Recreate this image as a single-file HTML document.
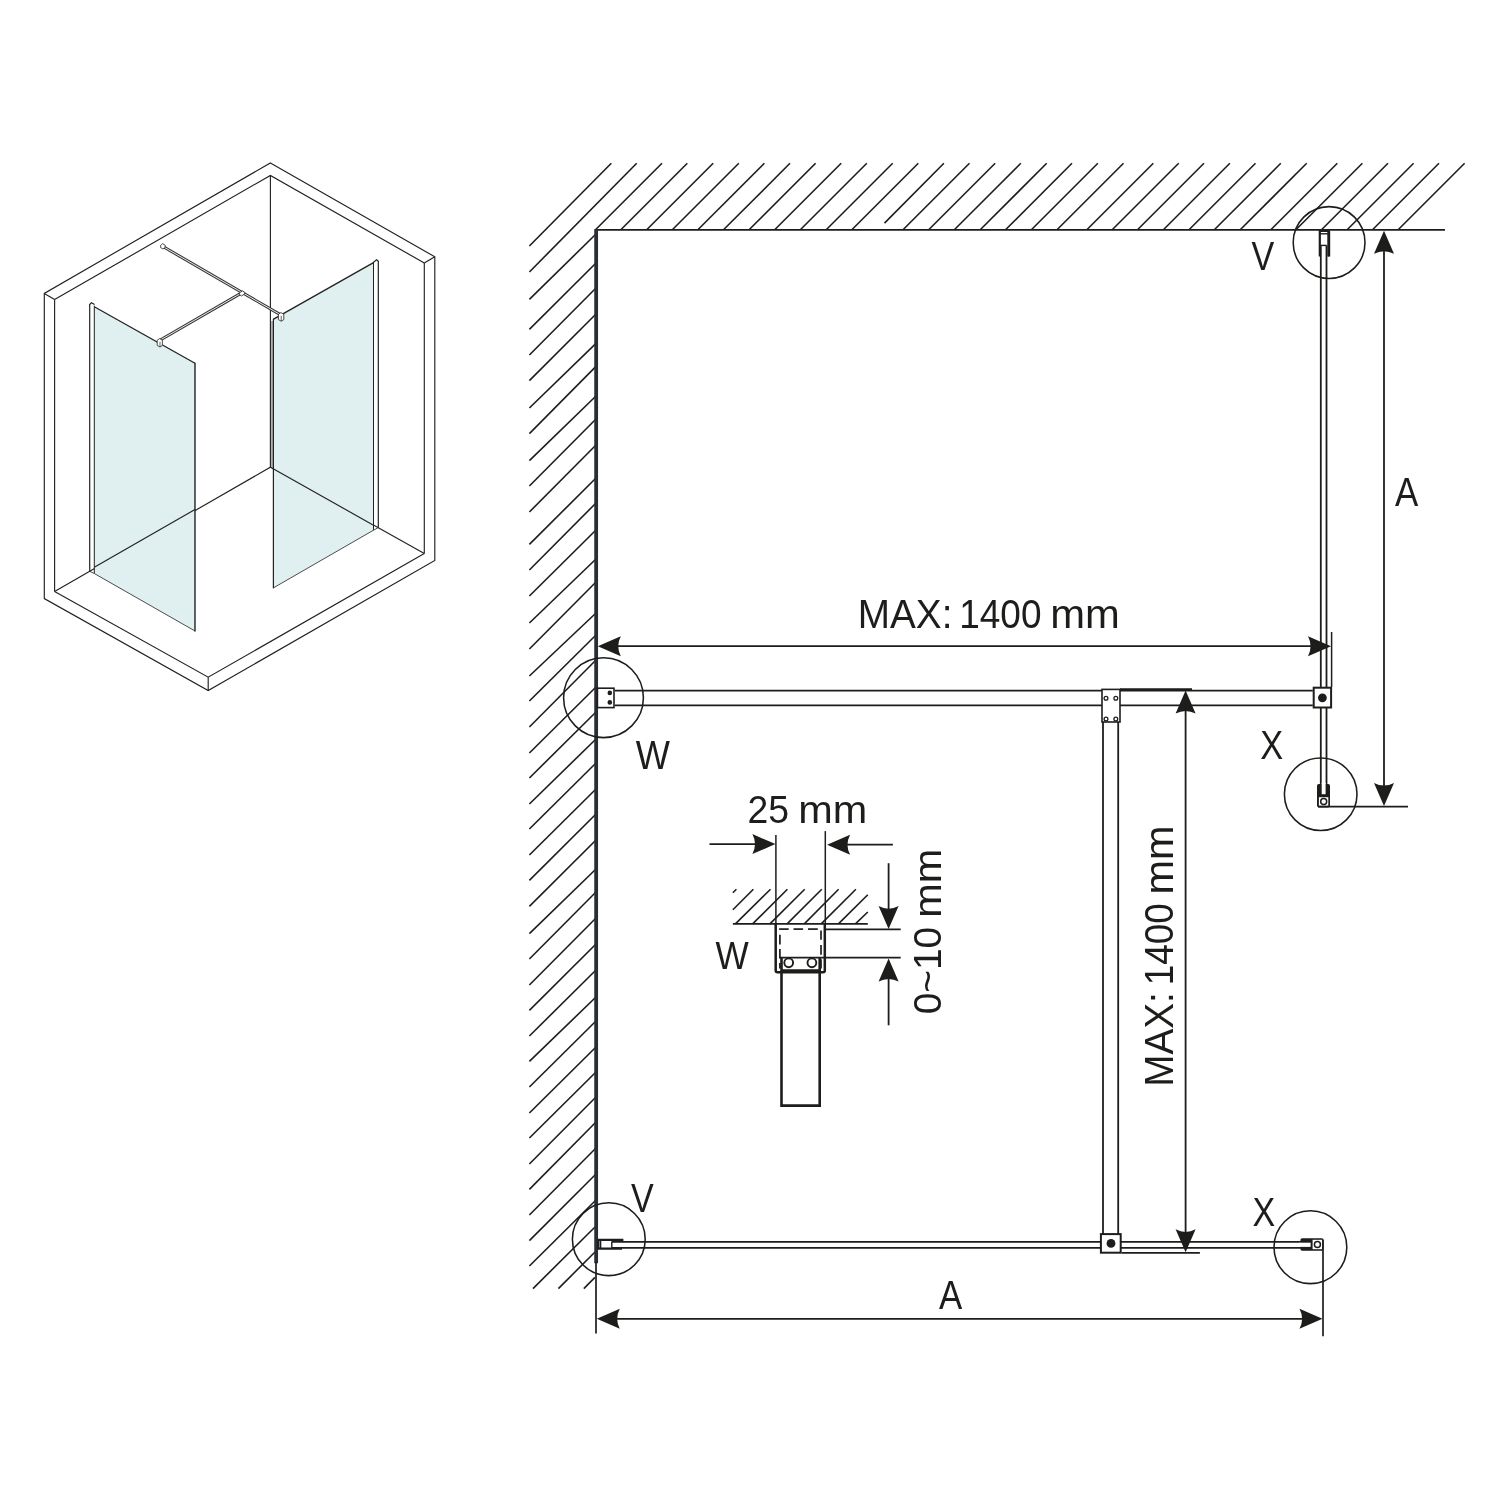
<!DOCTYPE html>
<html lang="en">
<head>
<meta charset="utf-8">
<title>Walk-in shower installation dimensions</title>
<style>
html,body{margin:0;padding:0;background:#fff;}
body{width:1500px;height:1500px;overflow:hidden;}
svg{display:block;will-change:transform;}
text{font-family:"Liberation Sans",sans-serif;}
</style>
</head>
<body>
<svg width="1500" height="1500" viewBox="0 0 1500 1500">
<rect x="0" y="0" width="1500" height="1500" fill="#ffffff"/>
<g stroke-linecap="butt">
<path d="M270.40,162.90 L434.80,256.80 L434.80,560.40 L208.20,690.60 L44.30,598.60 L44.30,293.40 Z" fill="none" stroke="#222221" stroke-width="1.15" stroke-linejoin="miter" />
<path d="M54.60,299.60 L270.40,175.40 L424.30,263.00" fill="none" stroke="#222221" stroke-width="1.15" stroke-linejoin="miter" />
<line x1="44.30" y1="293.40" x2="54.60" y2="299.60" stroke="#222221" stroke-width="1.15" />
<line x1="434.80" y1="256.80" x2="424.30" y2="263.00" stroke="#222221" stroke-width="1.15" />
<line x1="54.60" y1="299.60" x2="54.60" y2="591.40" stroke="#222221" stroke-width="1.15" />
<line x1="424.30" y1="263.00" x2="424.30" y2="553.60" stroke="#222221" stroke-width="1.15" />
<line x1="270.40" y1="175.40" x2="270.40" y2="467.20" stroke="#222221" stroke-width="1.15" />
<path d="M54.60,591.40 L270.40,467.20 L424.30,553.60" fill="none" stroke="#222221" stroke-width="1.15" stroke-linejoin="miter" />
<path d="M54.60,591.40 L208.20,677.20 L424.30,553.60" fill="none" stroke="#222221" stroke-width="1.15" stroke-linejoin="miter" />
<line x1="208.20" y1="677.20" x2="208.20" y2="690.60" stroke="#222221" stroke-width="1.15" />
<line x1="162.60" y1="246.30" x2="279.90" y2="314.40" stroke="#3a3a39" stroke-width="3.0" />
<line x1="162.60" y1="246.30" x2="279.90" y2="314.40" stroke="#ffffff" stroke-width="0.9" />
<line x1="240.40" y1="293.60" x2="160.30" y2="340.00" stroke="#3a3a39" stroke-width="3.0" />
<line x1="240.40" y1="293.60" x2="160.30" y2="340.00" stroke="#ffffff" stroke-width="0.9" />
<path d="M160.60,245.40 L162.60,243.60 L165.20,245.20 L165.00,247.60 L163.00,249.00 L160.60,247.60 Z" fill="#fff" stroke="#222221" stroke-width="0.8" stroke-linejoin="miter" />
<path d="M239.40,292.80 L242.40,290.90 L244.80,292.40 L244.60,294.00 L241.60,295.90 L239.40,294.50 Z" fill="#fff" stroke="#222221" stroke-width="0.8" stroke-linejoin="miter" />
<path d="M94.30,306.70 L195.00,363.30 L195.00,631.00 L94.30,573.50 Z" fill="#e0eff0" stroke="none" stroke-width="0" stroke-linejoin="miter" />
<line x1="94.30" y1="567.20" x2="195.00" y2="509.60" stroke="#222221" stroke-width="1.15" />
<line x1="94.30" y1="573.50" x2="195.00" y2="631.00" stroke="#222221" stroke-width="0.8" />
<line x1="94.30" y1="306.70" x2="195.00" y2="363.30" stroke="#222221" stroke-width="1.3" />
<line x1="195.00" y1="362.80" x2="195.00" y2="631.40" stroke="#222221" stroke-width="1.4" />
<line x1="94.30" y1="305.60" x2="94.30" y2="573.50" stroke="#222221" stroke-width="1.0" />
<line x1="89.70" y1="304.00" x2="89.70" y2="571.30" stroke="#222221" stroke-width="1.2" />
<path d="M89.70,304.40 L91.40,302.80 L94.60,304.60" fill="none" stroke="#222221" stroke-width="1.2" stroke-linejoin="miter" />
<line x1="89.70" y1="571.30" x2="94.30" y2="573.50" stroke="#222221" stroke-width="0.8" />
<path d="M273.20,319.40 L373.50,262.60 L373.50,530.20 L273.20,588.00 Z" fill="#e0eff0" stroke="none" stroke-width="0" stroke-linejoin="miter" />
<line x1="273.20" y1="468.80" x2="373.50" y2="525.20" stroke="#222221" stroke-width="1.15" />
<line x1="273.20" y1="588.00" x2="373.50" y2="530.20" stroke="#222221" stroke-width="0.8" />
<line x1="273.20" y1="319.40" x2="373.50" y2="262.60" stroke="#222221" stroke-width="1.3" />
<line x1="273.40" y1="318.80" x2="273.40" y2="588.20" stroke="#222221" stroke-width="1.2" />
<line x1="272.00" y1="321.00" x2="272.00" y2="467.80" stroke="#222221" stroke-width="0.7" />
<line x1="373.50" y1="262.00" x2="373.50" y2="530.20" stroke="#222221" stroke-width="1.0" />
<line x1="378.30" y1="261.00" x2="378.30" y2="527.60" stroke="#222221" stroke-width="1.2" />
<path d="M373.20,262.40 L376.60,259.80 L378.40,261.20" fill="none" stroke="#222221" stroke-width="1.2" stroke-linejoin="miter" />
<line x1="373.50" y1="530.20" x2="378.30" y2="527.60" stroke="#222221" stroke-width="0.8" />
<path d="M157.20,340.20 L159.60,338.60 L162.40,340.20 L162.40,345.40 L160.00,347.00 L157.20,345.40 Z" fill="#fff" stroke="#222221" stroke-width="0.8" stroke-linejoin="miter" />
<line x1="160.00" y1="341.80" x2="160.00" y2="347.00" stroke="#222221" stroke-width="0.7" />
<path d="M278.40,314.20 L281.00,312.60 L283.80,314.20 L283.80,319.60 L281.20,321.20 L278.40,319.60 Z" fill="#fff" stroke="#222221" stroke-width="0.8" stroke-linejoin="miter" />
<line x1="281.20" y1="315.80" x2="281.20" y2="321.20" stroke="#222221" stroke-width="0.7" />
</g>
<g stroke="#1d1d1b" stroke-width="1.6">
<line x1="611.3" y1="163.3" x2="529.4" y2="246.0"/>
<line x1="636.7" y1="163.3" x2="529.4" y2="272.0"/>
<line x1="662.0" y1="163.3" x2="595.5" y2="229.8"/>
<line x1="687.3" y1="163.3" x2="620.8" y2="229.8"/>
<line x1="713.2" y1="163.3" x2="646.7" y2="229.8"/>
<line x1="738.8" y1="163.3" x2="672.3" y2="229.8"/>
<line x1="764.4" y1="163.3" x2="697.9" y2="229.8"/>
<line x1="790.0" y1="163.3" x2="723.5" y2="229.8"/>
<line x1="815.6" y1="163.3" x2="749.1" y2="229.8"/>
<line x1="841.2" y1="163.3" x2="774.7" y2="229.8"/>
<line x1="866.8" y1="163.3" x2="800.3" y2="229.8"/>
<line x1="892.7" y1="163.3" x2="826.2" y2="229.8"/>
<line x1="918.3" y1="163.3" x2="851.8" y2="229.8"/>
<line x1="943.9" y1="163.3" x2="884.5" y2="223.1"/>
<line x1="969.5" y1="163.3" x2="903.0" y2="229.8"/>
<line x1="995.2" y1="163.3" x2="928.7" y2="229.8"/>
<line x1="1020.8" y1="163.3" x2="954.3" y2="229.8"/>
<line x1="1046.7" y1="163.3" x2="980.2" y2="229.8"/>
<line x1="1072.0" y1="163.3" x2="1005.5" y2="229.8"/>
<line x1="1097.9" y1="163.3" x2="1031.4" y2="229.8"/>
<line x1="1123.5" y1="163.3" x2="1057.0" y2="229.8"/>
<line x1="1153.3" y1="163.3" x2="1086.8" y2="229.8"/>
<line x1="1178.7" y1="163.3" x2="1112.2" y2="229.8"/>
<line x1="1204.0" y1="163.3" x2="1137.5" y2="229.8"/>
<line x1="1229.9" y1="163.3" x2="1163.4" y2="229.8"/>
<line x1="1255.5" y1="163.3" x2="1189.0" y2="229.8"/>
<line x1="1280.8" y1="163.3" x2="1214.3" y2="229.8"/>
<line x1="1306.7" y1="163.3" x2="1240.2" y2="229.8"/>
<line x1="1337.3" y1="163.3" x2="1270.8" y2="229.8"/>
<line x1="1362.4" y1="163.3" x2="1295.9" y2="229.8"/>
<line x1="1388.0" y1="163.3" x2="1321.5" y2="229.8"/>
<line x1="1413.6" y1="163.3" x2="1347.1" y2="229.8"/>
<line x1="1439.0" y1="163.3" x2="1372.5" y2="229.8"/>
<line x1="1464.6" y1="163.3" x2="1398.1" y2="229.8"/>
<line x1="529.4" y1="299.4" x2="596.0" y2="234.0"/>
<line x1="529.4" y1="329.4" x2="596.0" y2="263.0"/>
<line x1="529.4" y1="355.0" x2="596.0" y2="288.0"/>
<line x1="529.4" y1="380.6" x2="596.0" y2="314.0"/>
<line x1="529.4" y1="408.0" x2="596.0" y2="343.4"/>
<line x1="529.4" y1="433.6" x2="596.0" y2="366.4"/>
<line x1="529.4" y1="460.6" x2="596.0" y2="396.0"/>
<line x1="529.4" y1="486.0" x2="596.0" y2="419.0"/>
<line x1="529.4" y1="512.0" x2="596.0" y2="445.0"/>
<line x1="529.4" y1="544.4" x2="596.0" y2="478.0"/>
<line x1="529.4" y1="570.0" x2="596.0" y2="503.0"/>
<line x1="529.4" y1="596.0" x2="596.0" y2="530.0"/>
<line x1="529.4" y1="623.0" x2="596.0" y2="559.0"/>
<line x1="529.4" y1="649.0" x2="596.0" y2="582.0"/>
<line x1="529.4" y1="676.0" x2="596.0" y2="613.0"/>
<line x1="529.4" y1="701.0" x2="596.0" y2="635.0"/>
<line x1="529.4" y1="727.0" x2="596.0" y2="660.0"/>
<line x1="529.4" y1="753.0" x2="596.0" y2="687.0"/>
<line x1="529.4" y1="778.0" x2="596.0" y2="712.0"/>
<line x1="529.4" y1="804.0" x2="596.0" y2="739.0"/>
<line x1="529.4" y1="829.0" x2="596.0" y2="763.0"/>
<line x1="529.4" y1="855.0" x2="596.0" y2="789.0"/>
<line x1="529.4" y1="880.4" x2="596.0" y2="814.0"/>
<line x1="529.4" y1="906.4" x2="596.0" y2="840.0"/>
<line x1="529.4" y1="933.6" x2="596.0" y2="869.0"/>
<line x1="529.4" y1="959.0" x2="596.0" y2="892.0"/>
<line x1="529.4" y1="985.0" x2="596.0" y2="918.0"/>
<line x1="529.4" y1="1010.4" x2="596.0" y2="944.0"/>
<line x1="529.4" y1="1036.0" x2="596.0" y2="970.0"/>
<line x1="529.4" y1="1061.4" x2="596.0" y2="997.0"/>
<line x1="529.4" y1="1087.0" x2="596.0" y2="1021.0"/>
<line x1="529.4" y1="1113.0" x2="596.0" y2="1047.0"/>
<line x1="529.4" y1="1138.0" x2="596.0" y2="1072.0"/>
<line x1="529.4" y1="1164.0" x2="596.0" y2="1097.0"/>
<line x1="529.4" y1="1189.4" x2="596.0" y2="1122.0"/>
<line x1="529.4" y1="1215.0" x2="596.0" y2="1148.0"/>
<line x1="529.4" y1="1240.6" x2="596.0" y2="1174.0"/>
<line x1="529.4" y1="1266.0" x2="596.0" y2="1200.0"/>
<line x1="533.0" y1="1288.6" x2="595.0" y2="1227.0"/>
<line x1="558.4" y1="1288.6" x2="595.0" y2="1252.0"/>
<line x1="583.8" y1="1288.6" x2="595.0" y2="1277.4"/>
</g>
<line x1="596.00" y1="229.80" x2="1445.00" y2="229.80" stroke="#1d1d1b" stroke-width="1.7" />
<line x1="596.15" y1="228.95" x2="596.15" y2="1263.20" stroke="#2a2d36" stroke-width="3.8" />
<line x1="596.00" y1="1262.00" x2="596.00" y2="1333.60" stroke="#1d1d1b" stroke-width="1.7" />
<circle cx="603.50" cy="697.70" r="39.90" fill="none" stroke="#1d1d1b" stroke-width="1.55"/>
<circle cx="1329.10" cy="242.50" r="35.90" fill="none" stroke="#1d1d1b" stroke-width="1.55"/>
<circle cx="1320.70" cy="794.20" r="36.30" fill="none" stroke="#1d1d1b" stroke-width="1.55"/>
<circle cx="608.80" cy="1239.20" r="36.40" fill="none" stroke="#1d1d1b" stroke-width="1.55"/>
<circle cx="1310.40" cy="1247.20" r="36.40" fill="none" stroke="#1d1d1b" stroke-width="1.55"/>
<line x1="614.80" y1="690.60" x2="1312.80" y2="690.60" stroke="#1d1d1b" stroke-width="1.8" />
<line x1="614.80" y1="705.30" x2="1312.80" y2="705.30" stroke="#1d1d1b" stroke-width="1.8" />
<line x1="1103.00" y1="722.00" x2="1103.00" y2="1234.00" stroke="#1d1d1b" stroke-width="1.8" />
<line x1="1118.20" y1="722.00" x2="1118.20" y2="1234.00" stroke="#1d1d1b" stroke-width="1.8" />
<line x1="1320.80" y1="245.20" x2="1320.80" y2="795.00" stroke="#1d1d1b" stroke-width="1.8" />
<line x1="1326.50" y1="245.20" x2="1326.50" y2="795.00" stroke="#1d1d1b" stroke-width="1.8" />
<line x1="1320.80" y1="245.40" x2="1326.50" y2="245.40" stroke="#1d1d1b" stroke-width="1.4" />
<line x1="611.60" y1="1241.80" x2="1310.40" y2="1241.80" stroke="#1d1d1b" stroke-width="1.8" />
<line x1="611.60" y1="1247.80" x2="1310.40" y2="1247.80" stroke="#1d1d1b" stroke-width="1.8" />
<line x1="611.80" y1="1241.80" x2="611.80" y2="1247.80" stroke="#1d1d1b" stroke-width="1.4" />
<rect x="597.40" y="688.20" width="16.60" height="19.40" rx="0" fill="#fff" stroke="#1d1d1b" stroke-width="1.6"/>
<circle cx="609.80" cy="692.90" r="2.30" fill="#1d1d1b"/>
<circle cx="609.80" cy="702.40" r="2.30" fill="#1d1d1b"/>
<rect x="1102.00" y="689.40" width="18.00" height="32.60" rx="0" fill="#fff" stroke="#1d1d1b" stroke-width="1.6"/>
<circle cx="1106.00" cy="698.20" r="1.90" fill="none" stroke="#1d1d1b" stroke-width="1.3"/>
<circle cx="1106.00" cy="719.00" r="1.90" fill="none" stroke="#1d1d1b" stroke-width="1.3"/>
<circle cx="1115.80" cy="698.20" r="1.90" fill="none" stroke="#1d1d1b" stroke-width="1.3"/>
<circle cx="1115.80" cy="719.00" r="1.90" fill="none" stroke="#1d1d1b" stroke-width="1.3"/>
<line x1="1120.00" y1="689.40" x2="1192.00" y2="689.40" stroke="#1d1d1b" stroke-width="2.4" />
<rect x="1313.70" y="687.70" width="17.40" height="19.80" rx="0" fill="#fff" stroke="#1d1d1b" stroke-width="2.0"/>
<circle cx="1322.40" cy="697.80" r="4.40" fill="#1d1d1b"/>
<rect x="1100.90" y="1234.10" width="19.80" height="18.60" rx="0" fill="#fff" stroke="#1d1d1b" stroke-width="2.0"/>
<circle cx="1111.00" cy="1243.40" r="4.40" fill="#1d1d1b"/>
<line x1="1121.70" y1="1252.90" x2="1199.90" y2="1252.90" stroke="#1d1d1b" stroke-width="1.7" />
<path d="M1319.80,256.40 L1319.80,231.00 L1328.60,231.00 L1328.60,256.40" fill="none" stroke="#1d1d1b" stroke-width="2.2" stroke-linejoin="miter" />
<line x1="1328.90" y1="231.00" x2="1328.90" y2="256.40" stroke="#1d1d1b" stroke-width="2.6" />
<line x1="1319.80" y1="233.80" x2="1328.60" y2="233.80" stroke="#1d1d1b" stroke-width="1.4" />
<path d="M623.40,1239.80 L598.40,1239.80 L598.40,1248.60 L622.00,1248.60" fill="none" stroke="#1d1d1b" stroke-width="2.2" stroke-linejoin="miter" />
<line x1="600.60" y1="1240.60" x2="600.60" y2="1248.00" stroke="#1d1d1b" stroke-width="1.4" />
<rect x="1317.00" y="784.00" width="13.00" height="23.40" rx="1.8" fill="#1d1d1b" stroke="#1d1d1b" stroke-width="0"/>
<rect x="1321.7" y="783" width="3.9" height="11.2" fill="#fff"/>
<rect x="1318.9" y="797.2" width="9.4" height="8.6" fill="#fff"/>
<circle cx="1323.70" cy="801.40" r="3.00" fill="#fff" stroke="#1d1d1b" stroke-width="1.5"/>
<rect x="1300.40" y="1238.20" width="23.20" height="12.60" rx="1.8" fill="#1d1d1b" stroke="#1d1d1b" stroke-width="0"/>
<rect x="1299.4" y="1242.7" width="11.2" height="4.2" fill="#fff"/>
<rect x="1312.6" y="1239.8" width="9.6" height="9.4" fill="#fff"/>
<circle cx="1317.40" cy="1244.60" r="3.00" fill="#fff" stroke="#1d1d1b" stroke-width="1.5"/>
<line x1="610.00" y1="646.20" x2="1318.00" y2="646.20" stroke="#1d1d1b" stroke-width="1.8" />
<path transform="translate(597.80,646.20) rotate(180)" d="M0,0 L-23.0,-10.0 Q-17.8,0 -23.0,10.0 Z" fill="#1d1d1b"/>
<path transform="translate(1331.00,646.20) rotate(0)" d="M0,0 L-23.0,-10.0 Q-17.8,0 -23.0,10.0 Z" fill="#1d1d1b"/>
<line x1="1331.60" y1="632.00" x2="1331.60" y2="687.00" stroke="#1d1d1b" stroke-width="1.5" />
<line x1="1384.00" y1="243.00" x2="1384.00" y2="794.00" stroke="#1d1d1b" stroke-width="1.8" />
<path transform="translate(1384.00,230.80) rotate(-90)" d="M0,0 L-23.0,-10.0 Q-17.8,0 -23.0,10.0 Z" fill="#1d1d1b"/>
<path transform="translate(1384.00,806.00) rotate(90)" d="M0,0 L-23.0,-10.0 Q-17.8,0 -23.0,10.0 Z" fill="#1d1d1b"/>
<line x1="1318.00" y1="806.70" x2="1408.00" y2="806.70" stroke="#1d1d1b" stroke-width="1.7" />
<line x1="1185.60" y1="703.00" x2="1185.60" y2="1240.00" stroke="#1d1d1b" stroke-width="1.8" />
<path transform="translate(1185.60,690.60) rotate(-90)" d="M0,0 L-23.0,-10.0 Q-17.8,0 -23.0,10.0 Z" fill="#1d1d1b"/>
<path transform="translate(1185.60,1252.30) rotate(90)" d="M0,0 L-23.0,-10.0 Q-17.8,0 -23.0,10.0 Z" fill="#1d1d1b"/>
<line x1="609.00" y1="1318.80" x2="1310.00" y2="1318.80" stroke="#1d1d1b" stroke-width="1.8" />
<path transform="translate(596.80,1318.80) rotate(180)" d="M0,0 L-23.0,-10.0 Q-17.8,0 -23.0,10.0 Z" fill="#1d1d1b"/>
<path transform="translate(1322.50,1318.80) rotate(0)" d="M0,0 L-23.0,-10.0 Q-17.8,0 -23.0,10.0 Z" fill="#1d1d1b"/>
<line x1="1323.00" y1="1239.80" x2="1323.00" y2="1336.20" stroke="#1d1d1b" stroke-width="1.7" />
<g stroke="#1d1d1b" stroke-width="1.6">
<line x1="735.4" y1="923.9" x2="770.5" y2="889.2"/>
<line x1="752.6" y1="923.9" x2="787.4" y2="889.2"/>
<line x1="769.9" y1="923.9" x2="804.7" y2="889.2"/>
<line x1="787.1" y1="923.9" x2="821.8" y2="889.2"/>
<line x1="804.3" y1="923.9" x2="838.6" y2="889.2"/>
<line x1="821.2" y1="923.9" x2="855.9" y2="889.2"/>
<line x1="838.4" y1="923.9" x2="867.8" y2="894.7"/>
<line x1="855.4" y1="923.9" x2="867.8" y2="912.0"/>
<line x1="732.9" y1="909.7" x2="753.4" y2="889.2"/>
<line x1="732.9" y1="892.7" x2="736.4" y2="889.2"/>
</g>
<line x1="732.90" y1="923.90" x2="867.80" y2="923.90" stroke="#1d1d1b" stroke-width="1.7" />
<line x1="775.90" y1="835.10" x2="775.90" y2="924.00" stroke="#1d1d1b" stroke-width="1.5" />
<line x1="825.30" y1="831.10" x2="825.30" y2="924.00" stroke="#1d1d1b" stroke-width="1.5" />
<path d="M775.7,923.9 V970.4 Q775.7,972.2 777.5,972.2 H823.0 Q824.8,972.2 824.8,970.4 V923.9" fill="none" stroke="#1d1d1b" stroke-width="2.5"/>
<line x1="779.10" y1="929.10" x2="788.70" y2="929.10" stroke="#1d1d1b" stroke-width="1.7" />
<line x1="793.50" y1="929.10" x2="803.10" y2="929.10" stroke="#1d1d1b" stroke-width="1.7" />
<line x1="808.00" y1="929.10" x2="817.80" y2="929.10" stroke="#1d1d1b" stroke-width="1.7" />
<line x1="821.00" y1="930.50" x2="821.00" y2="939.80" stroke="#1d1d1b" stroke-width="1.7" />
<line x1="821.00" y1="945.10" x2="821.00" y2="954.70" stroke="#1d1d1b" stroke-width="1.7" />
<line x1="821.00" y1="959.30" x2="821.00" y2="968.60" stroke="#1d1d1b" stroke-width="1.7" />
<line x1="779.90" y1="934.70" x2="779.90" y2="944.60" stroke="#1d1d1b" stroke-width="1.7" />
<line x1="779.90" y1="949.10" x2="779.90" y2="958.20" stroke="#1d1d1b" stroke-width="1.7" />
<line x1="779.90" y1="963.00" x2="779.90" y2="968.40" stroke="#1d1d1b" stroke-width="1.7" />
<line x1="779.20" y1="957.70" x2="900.70" y2="957.70" stroke="#1d1d1b" stroke-width="1.8" />
<line x1="825.80" y1="929.30" x2="900.70" y2="929.30" stroke="#1d1d1b" stroke-width="1.7" />
<path d="M781.50,957.70 L781.50,1105.60 L819.70,1105.60 L819.70,957.70" fill="none" stroke="#1d1d1b" stroke-width="2.6" stroke-linejoin="miter" />
<line x1="781.50" y1="970.20" x2="819.70" y2="970.20" stroke="#1d1d1b" stroke-width="1.8" />
<circle cx="788.70" cy="962.80" r="4.40" fill="#fff" stroke="#1d1d1b" stroke-width="1.9"/>
<circle cx="811.90" cy="962.80" r="4.40" fill="#fff" stroke="#1d1d1b" stroke-width="1.9"/>
<line x1="709.50" y1="844.10" x2="763.00" y2="844.10" stroke="#1d1d1b" stroke-width="1.8" />
<path transform="translate(775.40,844.10) rotate(0)" d="M0,0 L-23.0,-10.0 Q-17.8,0 -23.0,10.0 Z" fill="#1d1d1b"/>
<line x1="840.00" y1="844.70" x2="892.90" y2="844.70" stroke="#1d1d1b" stroke-width="1.8" />
<path transform="translate(827.10,844.70) rotate(180)" d="M0,0 L-23.0,-10.0 Q-17.8,0 -23.0,10.0 Z" fill="#1d1d1b"/>
<line x1="888.60" y1="863.20" x2="888.60" y2="917.00" stroke="#1d1d1b" stroke-width="1.8" />
<path transform="translate(888.60,929.10) rotate(90)" d="M0,0 L-23.0,-10.0 Q-17.8,0 -23.0,10.0 Z" fill="#1d1d1b"/>
<line x1="888.60" y1="971.00" x2="888.60" y2="1025.30" stroke="#1d1d1b" stroke-width="1.8" />
<path transform="translate(888.60,958.50) rotate(-90)" d="M0,0 L-23.0,-10.0 Q-17.8,0 -23.0,10.0 Z" fill="#1d1d1b"/>
<text transform="translate(0,628.00)" font-size="40.58" fill="#1d1d1b"><tspan x="857.81" textLength="94.67" lengthAdjust="spacingAndGlyphs">MAX:</tspan> <tspan x="959.23" textLength="82.24" lengthAdjust="spacingAndGlyphs">1400</tspan> <tspan x="1050.18" textLength="69.58" lengthAdjust="spacingAndGlyphs">mm</tspan></text>
<text transform="translate(1172.90,0) rotate(-90)" font-size="40.58" fill="#1d1d1b"><tspan x="-1086.79" textLength="94.67" lengthAdjust="spacingAndGlyphs">MAX:</tspan> <tspan x="-985.37" textLength="82.24" lengthAdjust="spacingAndGlyphs">1400</tspan> <tspan x="-894.50" textLength="69.03" lengthAdjust="spacingAndGlyphs">mm</tspan></text>
<text transform="translate(0,1308.90)" font-size="40.58" fill="#1d1d1b"><tspan x="938.91" textLength="23.26" lengthAdjust="spacingAndGlyphs">A</tspan></text>
<text transform="translate(0,506.00)" font-size="40.58" fill="#1d1d1b"><tspan x="1394.91" textLength="23.26" lengthAdjust="spacingAndGlyphs">A</tspan></text>
<text transform="translate(0,270.00)" font-size="40.15" fill="#1d1d1b"><tspan x="1251.43" textLength="22.72" lengthAdjust="spacingAndGlyphs">V</tspan></text>
<text transform="translate(0,1211.60)" font-size="40.15" fill="#1d1d1b"><tspan x="631.03" textLength="22.72" lengthAdjust="spacingAndGlyphs">V</tspan></text>
<text transform="translate(0,768.80)" font-size="40.29" fill="#1d1d1b"><tspan x="635.82" textLength="34.22" lengthAdjust="spacingAndGlyphs">W</tspan></text>
<text transform="translate(0,968.60)" font-size="38.55" fill="#1d1d1b"><tspan x="715.42" textLength="33.21" lengthAdjust="spacingAndGlyphs">W</tspan></text>
<text transform="translate(0,758.60)" font-size="39.85" fill="#1d1d1b"><tspan x="1260.23" textLength="22.93" lengthAdjust="spacingAndGlyphs">X</tspan></text>
<text transform="translate(0,1226.00)" font-size="40.44" fill="#1d1d1b"><tspan x="1252.43" textLength="22.72" lengthAdjust="spacingAndGlyphs">X</tspan></text>
<text transform="translate(0,822.80)" font-size="38.98" fill="#1d1d1b"><tspan x="747.43" textLength="41.55" lengthAdjust="spacingAndGlyphs">25</tspan> <tspan x="798.30" textLength="69.03" lengthAdjust="spacingAndGlyphs">mm</tspan></text>
<text transform="translate(941.40,0) rotate(-90)" font-size="39.27" fill="#1d1d1b"><tspan x="-1014.36" textLength="87.61" lengthAdjust="spacingAndGlyphs">0~10</tspan> <tspan x="-917.80" textLength="69.14" lengthAdjust="spacingAndGlyphs">mm</tspan></text>
</svg>
</body>
</html>
